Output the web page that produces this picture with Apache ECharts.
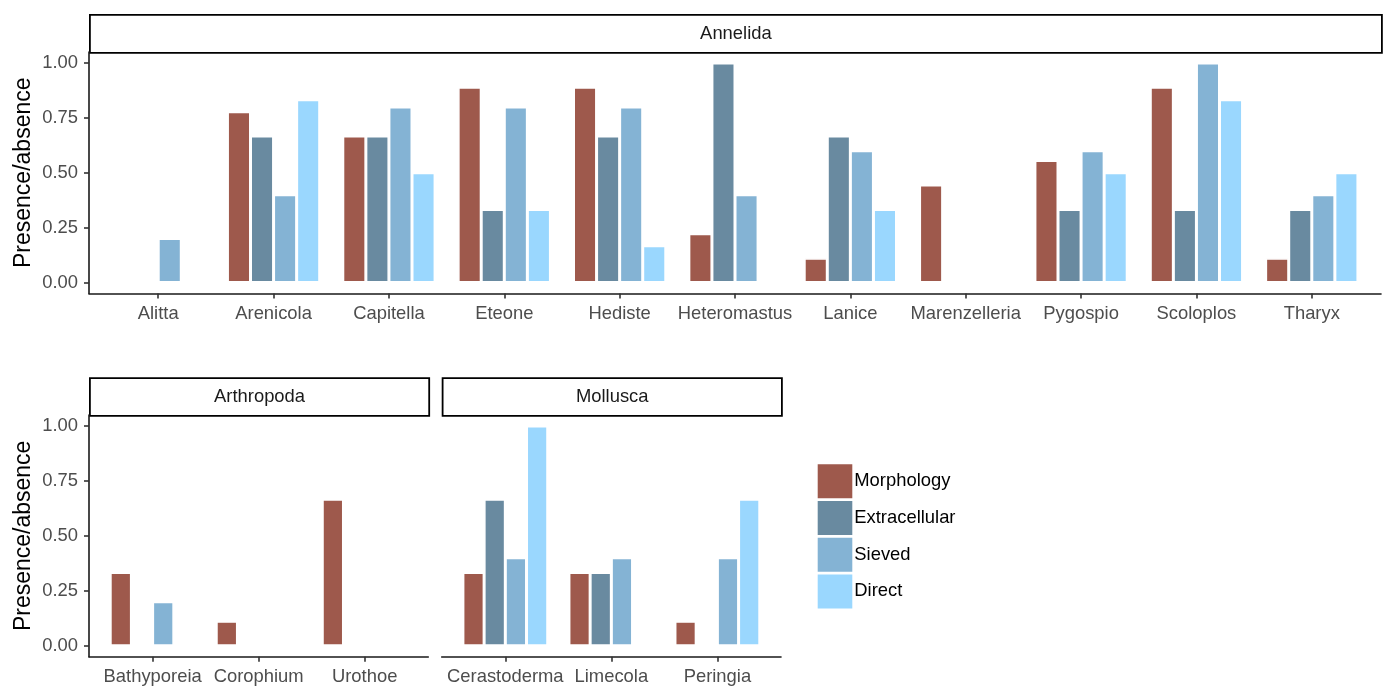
<!DOCTYPE html>
<html>
<head>
<meta charset="utf-8">
<script src="https://cdn.jsdelivr.net/npm/echarts@6/dist/echarts.min.js"></script>
<style>
html,body{margin:0;padding:0;background:#fff;}
#chart{width:1391px;height:686px;}
</style>
</head>
<body>
<div id="chart"></div>
<script>
// ---- data ----
const methods = ['Morphology', 'Extracellular', 'Sieved', 'Direct'];
const methodColors = ['#9E594C', '#698AA0', '#84B3D4', '#9AD7FE'];

const annelidaTaxa = ['Alitta','Arenicola','Capitella','Eteone','Hediste','Heteromastus','Lanice','Marenzelleria','Pygospio','Scoloplos','Tharyx'];
const annelidaMorphology    = [0, 0.778, 0.667, 0.889, 0.889, 0.222, 0.111, 0.444, 0.556, 0.889, 0.111];
const annelidaExtracellular = [0, 0.667, 0.667, 0.333, 0.667, 1.000, 0.667, 0, 0.333, 0.333, 0.333];
const annelidaSieved        = [0.2, 0.4, 0.8, 0.8, 0.8, 0.4, 0.6, 0, 0.6, 1.0, 0.4];
const annelidaDirect        = [0, 0.833, 0.5, 0.333, 0.167, 0, 0.333, 0, 0.5, 0.833, 0.5];

const arthropodaTaxa = ['Bathyporeia','Corophium','Urothoe'];
const arthropodaMorphology    = [0.333, 0.111, 0.667];
const arthropodaExtracellular = [0, 0, 0];
const arthropodaSieved        = [0.2, 0, 0];
const arthropodaDirect        = [0, 0, 0];

const molluscaTaxa = ['Cerastoderma','Limecola','Peringia'];
const molluscaMorphology    = [0.333, 0.333, 0.111];
const molluscaExtracellular = [0.667, 0.333, 0];
const molluscaSieved        = [0.4, 0.4, 0.4];
const molluscaDirect        = [1.0, 0, 0.667];

const yTicks = [0, 0.25, 0.5, 0.75, 1];
const yTitle = 'Presence/absence';

// ---- build ----
const FONT = 'Liberation Sans, Arial, sans-serif';
const panels = [
  {name:'Annelida', taxa: annelidaTaxa, vals:[annelidaMorphology, annelidaExtracellular, annelidaSieved, annelidaDirect],
   grid:{left:89, top:52, width:1292, height:241.5}, yaxis:true},
  {name:'Arthropoda', taxa: arthropodaTaxa, vals:[arthropodaMorphology, arthropodaExtracellular, arthropodaSieved, arthropodaDirect],
   grid:{left:89, top:415, width:339.3, height:241.7}, yaxis:true},
  {name:'Mollusca', taxa: molluscaTaxa, vals:[molluscaMorphology, molluscaExtracellular, molluscaSieved, molluscaDirect],
   grid:{left:441.7, top:415, width:339.3, height:241.7}, yaxis:false}
];

const grids = [], xAxes = [], yAxes = [], series = [], graphics = [];
panels.forEach((p, gi) => {
  grids.push(p.grid);
  const idx = p.taxa.map((_, i) => i);
  xAxes.push({
    type:'value', gridIndex:gi, min:-0.6, max:p.taxa.length - 1 + 0.6,
    splitLine:{show:false},
    axisLine:{show:true, onZero:false, lineStyle:{color:'#1a1a1a', width:1.6}},
    axisTick:{show:true, length:5, customValues:idx, lineStyle:{color:'#333', width:1.6}},
    axisLabel:{show:true, customValues:idx, margin:11, color:'#4D4D4D', fontSize:18.4, fontFamily:FONT,
      formatter:(v) => p.taxa[Math.round(v)] || ''}
  });
  yAxes.push({
    type:'value', gridIndex:gi, min:-0.05, max:1.05,
    splitLine:{show:false},
    name: p.yaxis ? yTitle : '', nameLocation:'middle', nameRotate:90, nameGap:54,
    nameMoveOverlap:false,
    nameTextStyle:{color:'#000', fontSize:23, fontFamily:FONT},
    axisLine:{show:p.yaxis, onZero:false, lineStyle:{color:'#1a1a1a', width:1.6}},
    axisTick:{show:p.yaxis, length:5, customValues:yTicks, lineStyle:{color:'#333', width:1.6}},
    axisLabel:{show:p.yaxis, customValues:yTicks, margin:11, color:'#4D4D4D', fontSize:18.4, fontFamily:FONT,
      formatter:(v) => v.toFixed(2)}
  });
  methods.forEach((m, mi) => {
    series.push({
      type:'bar', name:m, xAxisIndex:gi, yAxisIndex:gi,
      data: p.vals[mi].map((v, i) => [i, v]),
      barGap:'0%', barCategoryGap:'20%',
      itemStyle:{color:methodColors[mi], borderColor:'#fff', borderWidth:1.5},
      emphasis:{disabled:true}
    });
  });
  // facet strip
  const g = p.grid;
  const stripH = gi === 0 ? 38 : 37.7;
  graphics.push({
    type:'group', left:g.left, top:g.top - stripH,
    children:[
      {type:'rect', shape:{x:0, y:0, width:g.width, height:stripH},
       style:{fill:'#fff', stroke:'#000', lineWidth:1.8}},
      {type:'text', x:g.width/2, y:stripH/2,
       style:{text:p.name, fill:'#1A1A1A', fontSize:18.4, fontFamily:FONT, align:'center', verticalAlign:'middle'}}
    ]
  });
});

const chart = echarts.init(document.getElementById('chart'), null, {renderer:'canvas'});
chart.setOption({
  backgroundColor:'#fff',
  animation:false,
  grid: grids,
  xAxis: xAxes,
  yAxis: yAxes,
  series: series,
  legend:{
    data: methods, orient:'vertical', left:817.7, top:464.3,
    itemWidth:34.6, itemHeight:34, itemGap:2.7, icon:'rect', padding:0,
    itemStyle:{borderWidth:0},
    selectedMode:false,
    textStyle:{color:'#000', fontSize:18.4, fontFamily:FONT, padding:[0,0,0,-3]}
  },
  graphic: graphics
});
</script>
</body>
</html>
